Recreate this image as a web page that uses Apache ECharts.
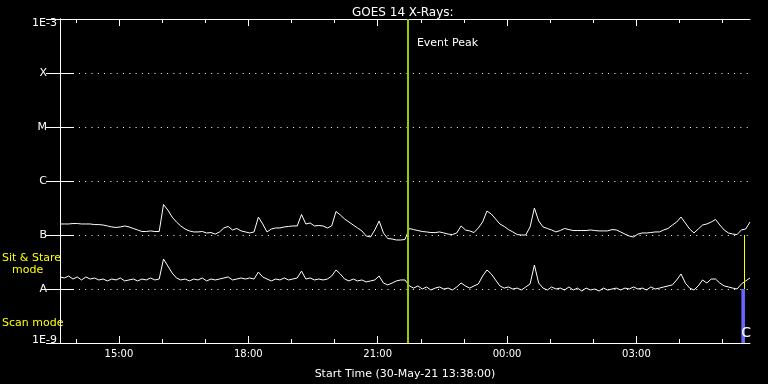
<!DOCTYPE html>
<html>
<head>
<meta charset="utf-8">
<script src="https://cdn.jsdelivr.net/npm/echarts@6/dist/echarts.min.js"></script>
<style>
html,body{margin:0;padding:0;background:#000;}
#chart{width:768px;height:384px;}
</style>
</head>
<body>
<div id="chart"></div>
<script>
// ---------------- DATA ----------------
const chartTitle = 'GOES 14 X-Rays:';
const startText = 'Start Time (30-May-21 13:38:00)';
const startClock = '13:38';
const spanMinutes = 960;          // 16-hour window
const sampleStepMinutes = 6;      // readings every 6 minutes from start

// long channel (1-8 A), units of 1e-7 W/m^2
const longFlux = [
1.60,1.60,1.60,1.63,1.63,1.60,1.60,1.60,1.56,1.56,
1.53,1.47,1.41,1.38,1.41,1.47,1.41,1.32,1.24,1.16,
1.16,1.19,1.16,1.16,3.67,2.90,2.15,1.74,1.47,1.29,
1.19,1.14,1.14,1.16,1.09,1.11,1.04,1.14,1.35,1.44,
1.24,1.32,1.19,1.14,1.09,1.14,2.15,1.60,1.14,1.29,
1.35,1.35,1.41,1.44,1.47,1.47,2.40,1.60,1.67,1.47,
1.50,1.47,1.35,1.47,2.72,2.35,1.98,1.74,1.53,1.35,
1.19,0.958,0.918,1.24,1.82,1.09,0.861,0.843,0.808,0.808,
0.825,1.32,1.26,1.21,1.16,1.14,1.11,1.11,1.14,1.09,
1.04,1.02,1.09,1.47,1.24,1.19,1.11,1.35,1.74,2.78,
2.45,1.98,1.60,1.44,1.26,1.14,1.02,1.00,1.00,1.41,
3.16,1.82,1.41,1.32,1.24,1.14,1.21,1.32,1.26,1.21,
1.21,1.21,1.21,1.24,1.21,1.19,1.19,1.19,1.26,1.24,
1.14,1.04,0.958,0.918,1.04,1.09,1.09,1.11,1.14,1.14,
1.24,1.32,1.53,1.74,2.15,1.67,1.29,1.09,1.29,1.53,
1.60,1.74,1.94,1.53,1.24,1.09,1.04,1.02,1.24,1.29,
1.74
];
// short channel (0.5-4 A), units of 1e-8 W/m^2
const shortFlux = [
1.67,1.60,1.74,1.53,1.67,1.47,1.67,1.53,1.60,1.47,
1.53,1.41,1.53,1.47,1.60,1.41,1.47,1.53,1.41,1.53,
1.47,1.60,1.47,1.53,3.59,2.67,1.98,1.60,1.47,1.53,
1.41,1.53,1.47,1.60,1.41,1.53,1.47,1.53,1.60,1.67,
1.47,1.53,1.60,1.53,1.60,1.53,2.06,1.67,1.53,1.41,
1.53,1.47,1.60,1.47,1.53,1.60,2.15,1.53,1.60,1.47,
1.53,1.47,1.53,1.74,2.25,1.90,1.53,1.41,1.53,1.41,
1.47,1.35,1.41,1.47,1.74,1.29,1.19,1.29,1.41,1.47,
1.47,1.14,1.04,1.14,1.00,1.09,0.958,1.04,1.09,1.00,
1.04,0.958,1.09,1.29,1.14,1.04,1.14,1.24,1.74,2.25,
1.90,1.47,1.14,1.04,1.09,1.00,1.04,0.958,1.09,1.24,
2.78,1.29,1.04,0.958,1.09,1.00,1.04,0.958,1.09,0.958,
1.04,0.918,1.04,0.958,1.00,0.918,1.04,0.958,1.00,1.04,
0.958,1.04,1.00,1.09,1.00,1.04,0.958,1.09,1.00,1.04,
1.09,1.14,1.19,1.47,1.90,1.29,1.04,0.958,1.14,1.47,
1.29,1.53,1.53,1.29,1.14,1.09,1.04,1.00,1.24,1.41,
1.60
];
const levelLabels = ['1E-9','A','B','C','M','X','1E-3'];
const hourTicks = ['14:00','15:00','16:00','17:00','18:00','19:00','20:00','21:00','22:00','23:00','00:00','01:00','02:00','03:00','04:00','05:00'];
const majorTickLabels = ['15:00','18:00','21:00','00:00','03:00'];
const eventPeakTime = '21:42';
const eventLabel = 'Event Peak';
const eventLabelFlux = 3.6e-4;
const sitStareTimes = ['05:30:30'];            // drawn between A and B levels
const scanSpan = ['05:26','05:31'];            // drawn between 1E-9 and A levels
const classLetter = 'C';
const classLetterAt = ['05:32:30', 1.53e-9];
const modeLabels = ['Sit & Stare', 'mode', 'Scan mode'];

// ---------------- HELPERS ----------------
function clockToMin0(s){ const p=s.split(':').map(Number); return p[0]*60+p[1]; }
function clockToMin(s){
  const p = s.split(':').map(Number);
  const abs = p[0]*60 + p[1] + (p[2]||0)/60;
  const st = clockToMin0(startClock);
  return ((abs - st) % 1440 + 1440) % 1440;
}
function minToClock(m){
  const a = Math.round(m + clockToMin0(startClock)) % 1440;
  const h = Math.floor(a/60), mm = a%60;
  return String(h).padStart(2,'0') + ':' + String(mm).padStart(2,'0');
}

const longData = longFlux.map((v,i)=>[i*sampleStepMinutes, v*1e-7]);
const shortData = shortFlux.map((v,i)=>[i*sampleStepMinutes, v*1e-8]);
const minorTickVals = hourTicks.map(clockToMin);
const majorTickVals = majorTickLabels.map(clockToMin);

const FONT = 'DejaVu Sans';
const WHITE = '#ffffff';

function xAx(pos, vals, len, showLabel, showLine){
  return {
    type:'value', position:pos, min:0, max:spanMinutes,
    axisLine:{show:showLine, onZero:false, lineStyle:{color:WHITE,width:1}},
    axisTick:{show:true, inside:true, length:len, customValues:vals, lineStyle:{color:WHITE,width:1}},
    axisLabel:{show:showLabel, customValues:vals, margin:6, color:WHITE, fontFamily:FONT, fontSize:10,
      formatter:(v)=>minToClock(v)},
    splitLine:{show:false},
    name: (pos==='bottom' && showLabel) ? startText : '',
    nameLocation:'middle', nameGap:26,
    nameTextStyle:{color:WHITE, fontFamily:FONT, fontSize:11}
  };
}
function yAx(pos, showLabel, showSplit){
  return {
    type:'log', logBase:10, position:pos, min:1e-9, max:1e-3,
    axisLine:{show:true, lineStyle:{color:WHITE,width:1}},
    axisTick:{show:true, inside:true, length:14, lineStyle:{color:WHITE,width:1}},
    minorTick:{show:false},
    axisLabel:{show:showLabel, margin:3,
      formatter:(v)=>{
        const k = Math.round(Math.log10(v)) + 9;
        const s = levelLabels[k] || '';
        if (k === levelLabels.length - 1) return '{t|'+s+'}';
        if (k === 0) return '{b|'+s+'}';
        return '{l|'+s+'}';
      },
      rich:{
        t:{color:WHITE, fontFamily:FONT, fontSize:11, padding:[9,0,0,0]},
        b:{color:WHITE, fontFamily:FONT, fontSize:11, padding:[0,0,6,0]},
        l:{color:WHITE, fontFamily:FONT, fontSize:11, padding:[0,10,0,0]}
      }
    },
    splitLine:{show:showSplit, lineStyle:{color:WHITE, width:1, type:[1,5.3]}}
  };
}

const chart = echarts.init(document.getElementById('chart'), null, {renderer:'canvas'});
chart.setOption({
  backgroundColor:'#000',
  animation:false,
  title:{text:chartTitle, left:347, top:2, textStyle:{color:WHITE, fontFamily:FONT, fontSize:12, fontWeight:'normal'}},
  grid:{left:60, right:18, top:19, bottom:41, containLabel:false, outerBoundsMode:'none'},
  xAxis:[
    xAx('bottom', minorTickVals, 4, false, true),
    xAx('bottom', majorTickVals, 7, true, false),
    xAx('top', minorTickVals, 4, false, true),
    xAx('top', majorTickVals, 7, false, false)
  ],
  yAxis:[ yAx('left', true, true), yAx('right', false, false) ],
  graphic:[
    {type:'text', left:2, top:253, style:{text:modeLabels[0], fill:'#ffff00', font:'11px "DejaVu Sans"'}},
    {type:'text', left:12, top:265, style:{text:modeLabels[1], fill:'#ffff00', font:'11px "DejaVu Sans"'}},
    {type:'text', left:2, top:318, style:{text:modeLabels[2], fill:'#ffff00', font:'11px "DejaVu Sans"'}}
  ],
  series:[
    {
      type:'line', name:'long', data:longData, xAxisIndex:0, yAxisIndex:0,
      showSymbol:false, symbol:'none', lineStyle:{color:WHITE, width:1}, z:3,
      markLine:{
        silent:true, symbol:['none','none'], label:{show:false},
        data:[{xAxis:clockToMin(eventPeakTime), lineStyle:{color:'#9acd00', width:2, type:'solid'}}]
      },
      markPoint:{
        silent:true,
        data:[{coord:[clockToMin(eventPeakTime), eventLabelFlux], symbol:'circle', symbolSize:0,
          label:{show:true, position:'right', distance:9, formatter:eventLabel, color:WHITE, fontFamily:FONT, fontSize:11}}]
      }
    },
    {
      type:'line', name:'short', data:shortData, xAxisIndex:0, yAxisIndex:0,
      showSymbol:false, symbol:'none', lineStyle:{color:WHITE, width:1}, z:3,
      markArea:{
        silent:true,
        data:[[{xAxis:clockToMin(scanSpan[0]), yAxis:1e-9, itemStyle:{color:'#6666ff', opacity:1}},
               {xAxis:clockToMin(scanSpan[1]), yAxis:1e-8}]]
      },
      markLine:{
        silent:true, symbol:['none','none'], label:{show:false},
        data: sitStareTimes.map(t=>[{coord:[clockToMin(t),1e-8]},{coord:[clockToMin(t),1e-7]}]),
        lineStyle:{color:'#ffff00', width:1, type:'solid'}
      },
      markPoint:{
        silent:true,
        data:[{coord:[clockToMin(classLetterAt[0]), classLetterAt[1]], symbol:'circle', symbolSize:0,
          label:{show:true, position:'inside', formatter:classLetter, color:WHITE, fontFamily:FONT, fontSize:14}}]
      }
    }
  ]
});
</script>
</body>
</html>
